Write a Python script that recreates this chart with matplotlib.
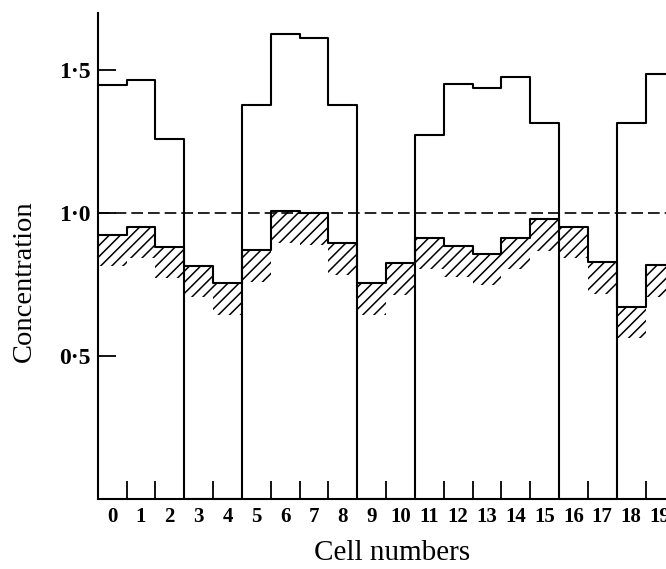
import numpy as np
import matplotlib
matplotlib.use('Agg')
import matplotlib.pyplot as plt

# cell numbers and the two concentration profiles
cells = list(range(20))
# upper profile, NaN where there is no upper trace (drops to zero)
upper = [1.45, 1.465, 1.26, np.nan, np.nan, 1.38, 1.628, 1.613, 1.38, np.nan,
         np.nan, 1.273, 1.453, 1.438, 1.477, 1.316, np.nan, np.nan, 1.316, 1.487]
# lower (hatched) profile
lower = [0.925, 0.952, 0.882, 0.815, 0.754, 0.870, 1.007, 1.0, 0.894, 0.754,
         0.824, 0.913, 0.885, 0.857, 0.913, 0.978, 0.952, 0.828, 0.672, 0.818]
ytick_vals = [0.5, 1.0, 1.5]
ytick_labels = ['0·5', '1·0', '1·5']

plt.rcParams['font.family'] = ['Liberation Serif', 'DejaVu Serif']
plt.rcParams['hatch.linewidth'] = 1.1

fig = plt.figure(figsize=(6.66, 5.69), dpi=100)
ax = fig.add_axes([0.1467, 0.123, 0.8533, 0.854])

# step edges: cell i spans [i, i+1]
edges = np.arange(len(cells) + 1)
up = np.nan_to_num(np.array(upper), nan=0.0)
lo = np.array(lower)

# hatched band under the lower profile
band = 0.11
ax.fill_between(edges, np.append(lo - band, lo[-1] - band), np.append(lo, lo[-1]),
                step='post', facecolor='none', edgecolor='black', hatch='///',
                linewidth=0)

ax.step(edges, np.append(up, up[-1]), where='post', color='black', lw=1.5)
ax.step(edges, np.append(lo, lo[-1]), where='post', color='black', lw=1.5)

# dashed reference line at 1.0
ax.axhline(1.0, color='black', lw=1.2, dashes=(7, 3))

ax.set_xlim(0, 19.71)
ax.set_ylim(0, 1.70)

for s in ['top', 'right']:
    ax.spines[s].set_visible(False)
for s in ['left', 'bottom']:
    ax.spines[s].set_linewidth(1.5)

# x: short ticks at cell boundaries, labels at cell centres
ax.set_xticks(edges[1:20])
ax.set_xticklabels([])
ax.tick_params(axis='x', which='major', direction='in', length=13, width=1.3)
ax.set_xticks(np.array(cells) + 0.5, minor=True)
ax.set_xticklabels([str(c) for c in cells], minor=True, fontweight='bold')
ax.tick_params(axis='x', which='minor', length=0, pad=6, labelsize=15)

ax.set_yticks(ytick_vals)
ax.set_yticklabels(ytick_labels, fontweight='bold')
ax.tick_params(axis='y', direction='in', length=13, width=1.3, pad=5, labelsize=17)

fig.text(0.037, 0.506, 'Concentration', rotation=90, ha='center', va='center',
         fontsize=20.5)
fig.text(0.588, 0.028, 'Cell numbers', ha='center', va='center', fontsize=21)

fig.savefig('out.png', dpi=100)
